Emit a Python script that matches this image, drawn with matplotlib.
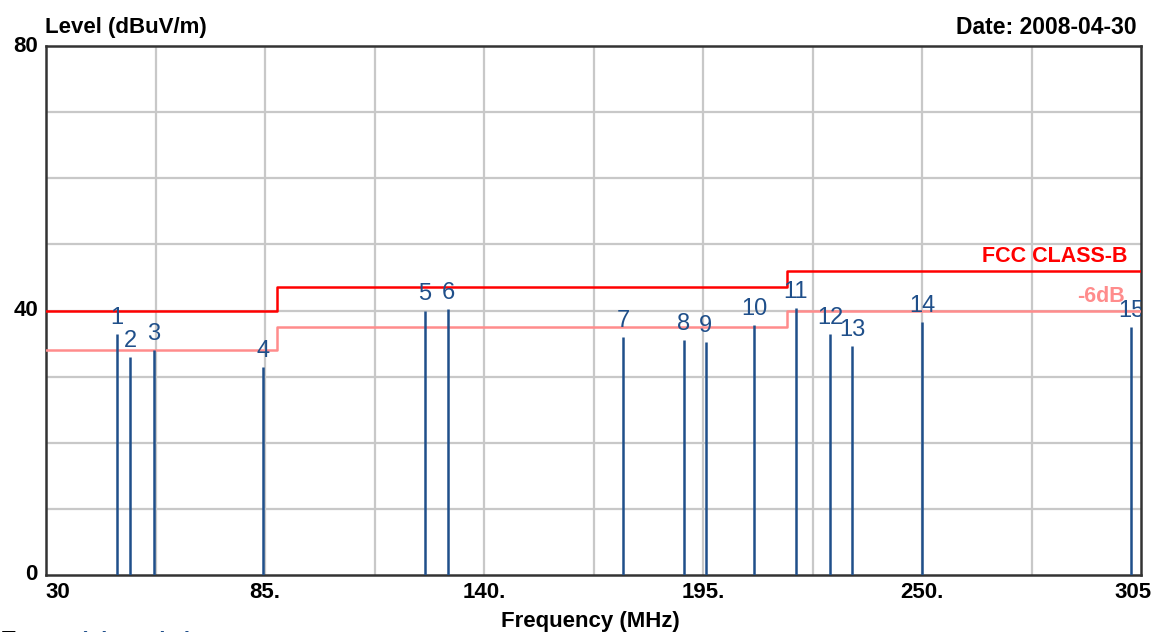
import matplotlib
matplotlib.use("Agg")
import matplotlib.pyplot as plt
import matplotlib.transforms as mtransforms

plt.rcParams['font.family'] = ['Liberation Sans', 'DejaVu Sans']

# ---- data ----
marker_ids = ["1", "2", "3", "4", "5", "6", "7", "8", "9", "10", "11", "12", "13", "14", "15"]
marker_freq = [47.8, 51.1, 57.1, 84.5, 125.2, 131.0, 174.9, 190.2, 195.7, 207.8, 218.3, 226.9, 232.4, 250.0, 302.5]
marker_level = [36.5, 32.9, 34.0, 31.5, 40.0, 40.2, 36.0, 35.5, 35.2, 37.8, 40.4, 36.4, 34.6, 38.2, 37.5]

limit_freq = [30, 88, 88, 216, 216, 305]
limit_level = [40.0, 40.0, 43.5, 43.5, 46.0, 46.0]
margin_level = [34.0, 34.0, 37.5, 37.5, 40.0, 40.0]

x_ticks = [30, 85, 140, 195, 250, 305]
x_tick_labels = ["30", "85.", "140.", "195.", "250.", "305"]
y_ticks = [0, 40, 80]
y_tick_labels = ["0", "40", "80"]

W, H = 1157, 632
fig = plt.figure(figsize=(W / 100, H / 100), dpi=100)
L, R, T, B = 46, 1141, 46, 575
ax = fig.add_axes([L / W, (H - B) / H, (R - L) / W, (B - T) / H])
ax.set_xlim(30, 305)
ax.set_ylim(0, 80)

# grid
grid_col = '#c8c8c8'
for i in range(1, 10):
    ax.axvline(30 + 27.5 * i, color=grid_col, lw=1.6, zorder=1)
for j in range(1, 8):
    ax.axhline(10 * j, color=grid_col, lw=1.6, zorder=1)

# limit lines
ax.plot(limit_freq, limit_level, color='#ff0000', lw=1.8, zorder=3)
ax.plot(limit_freq, margin_level, color='#ff8c8c', lw=1.8, zorder=3)

bar_col = '#1f4f8a'
ax.vlines(marker_freq, 0, marker_level, color=bar_col, lw=1.8, zorder=4)
for mid, f, lv in zip(marker_ids, marker_freq, marker_level):
    ax.annotate(mid, (f, lv), xytext=(0, 5), textcoords='offset pixels',
                ha='center', va='bottom', color=bar_col, fontsize=17,
                annotation_clip=False, clip_on=True, zorder=5)

blend = mtransforms.blended_transform_factory(ax.transAxes, ax.transData)
ax.text(0.988, 46.6, "FCC CLASS-B", transform=blend,
        ha='right', va='bottom', color='#ff0000', fontsize=15.5, fontweight='bold', zorder=5)
ax.text(0.985, 40.6, "-6dB", transform=blend,
        ha='right', va='bottom', color='#ff8c8c', fontsize=15.5, fontweight='bold', zorder=5)

# frame
for s in ax.spines.values():
    s.set_color('#333333')
    s.set_linewidth(1.8)
ax.set_xticks([])
ax.set_yticks([])

def px(x, y):
    return x / W, 1 - y / H

for t, lab in zip(x_ticks, x_tick_labels):
    xp = L + (t - 30) / 275 * (R - L)
    ha = 'center'
    if lab == "30":
        ha = 'left'
        xp = L - 1
    elif lab == "305":
        xp = R - 8
    fig.text(*px(xp, 592), lab, ha=ha, va='center', fontsize=16, fontweight='bold')
for t, lab in zip(y_ticks, y_tick_labels):
    yp = B - t / 80 * (B - T)
    fig.text(*px(38, yp), lab, ha='right', va='center', fontsize=16, fontweight='bold')

fig.text(*px(45, 27), "Level (dBuV/m)", ha='left', va='center', fontsize=16, fontweight='bold')
fig.text(*px(1137, 27), "Date: 2008-04-30", ha='right', va='center', fontsize=16.5, fontweight='bold')
fig.text(*px(590, 622), "Frequency (MHz)", ha='center', va='center', fontsize=16, fontweight='bold')
fig.text(*px(2, 641), "Trace:", ha='left', va='center', fontsize=16, fontweight='bold')
fig.text(*px(80, 641), "(Picovolts)", ha='left', va='center', fontsize=16, fontweight='bold', color='#1f4f8a')

fig.savefig("out.png", dpi=100)
